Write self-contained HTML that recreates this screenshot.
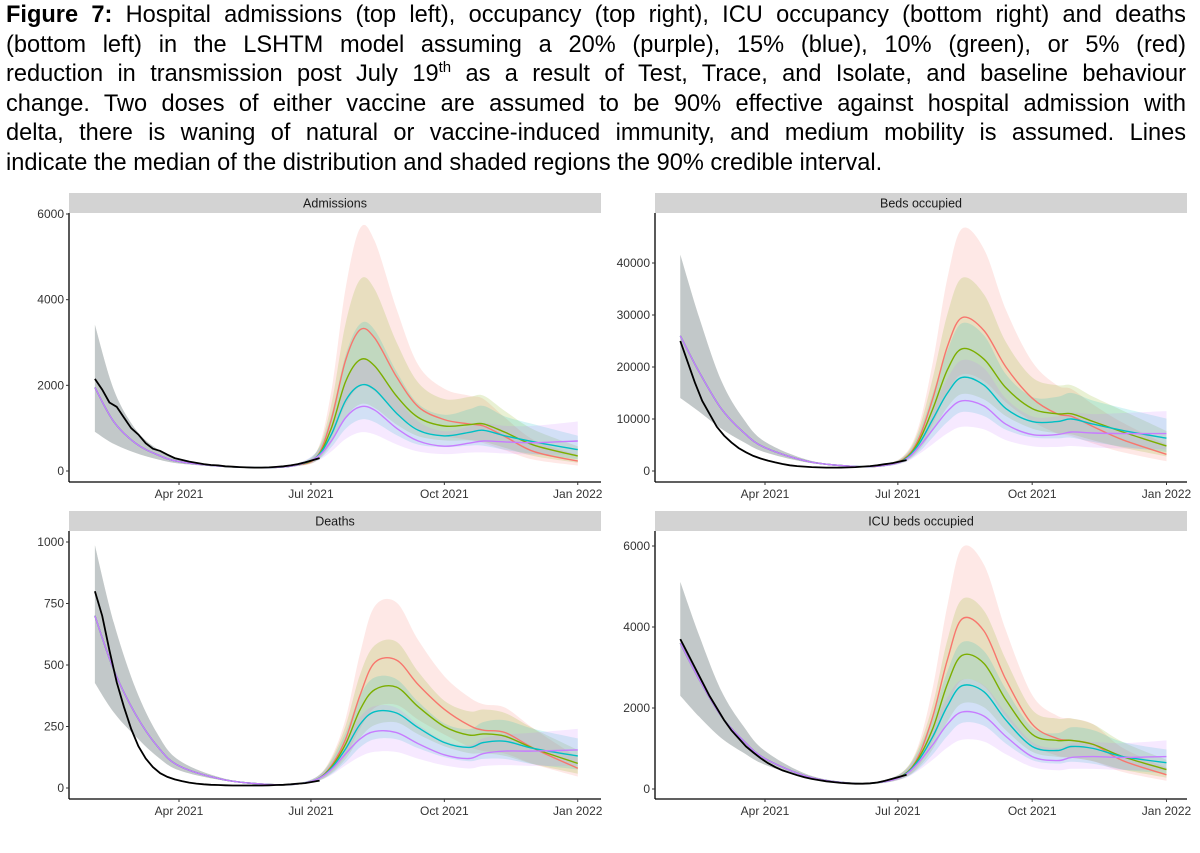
<!DOCTYPE html>
<html><head><meta charset="utf-8">
<style>
html,body{margin:0;padding:0;background:#fff;}
body{width:1200px;height:853px;position:relative;overflow:hidden;font-family:"Liberation Sans",Arial,sans-serif;}
#cap{position:absolute;left:6px;top:1px;width:1180px;font-size:23.6px;line-height:29.6px;color:#000;}
#cap div{text-align:justify;text-align-last:justify;white-space:nowrap;}
#cap div.last{text-align-last:left;}
sup{font-size:15px;line-height:0;}
svg{position:absolute;left:0;top:0;}
</style></head><body>
<div id="cap">
<div><b>Figure 7:</b> Hospital admissions (top left), occupancy (top right), ICU occupancy (bottom right) and deaths</div>
<div>(bottom left) in the LSHTM model assuming a 20% (purple), 15% (blue), 10% (green), or 5% (red)</div>
<div>reduction in transmission post July 19<sup>th</sup> as a result of Test, Trace, and Isolate, and baseline behaviour</div>
<div>change. Two doses of either vaccine are assumed to be 90% effective against hospital admission with</div>
<div>delta, there is waning of natural or vaccine-induced immunity, and medium mobility is assumed. Lines</div>
<div class="last">indicate the median of the distribution and shaded regions the 90% credible interval.</div>
</div>
<svg id="chart" width="1200" height="853"></svg>
<script>
// shared model time points (day of year 2021)
const days = [32,45,60,75,90,120,150,170,185,195,205,215,225,240,255,273,290,300,315,335,365];
const obsDays = [32,37,42,47,52,57,62,67,72,77,82,87,92,97,102,107,112,117,122,127,132,137,142,147,152,157,162,167,172,177,182,187];
const xTickLabels = ["Apr 2021","Jul 2021","Oct 2021","Jan 2022"];
const xTickDays = [90,181,273,365];

// Admissions
const admPre = [1950,1150,650,380,220,110,80,130];
const admRed = [330,1200,2600,3300,3100,2200,1500,1200,1100,1050,800,450,230];
const admGreen = [330,1000,2100,2600,2450,1750,1250,1050,1080,1100,900,600,350];
const admBlue = [330,850,1650,2000,1900,1350,950,820,900,950,820,680,500];
const admPurple = [320,700,1250,1500,1420,1000,700,580,650,700,680,660,700];
const admObs = [2150,1900,1600,1500,1250,1000,850,650,520,470,380,300,260,220,190,160,140,130,110,100,90,85,80,80,85,95,110,130,160,200,250,300];
const admHi = [1.75,1.65,1.5,1.35,1.25,1.15,1.15,1.25,1.4,1.55,1.65,1.72,1.73,1.72,1.65,1.6,1.6,1.6,1.55,1.6,1.65];
const admLo = [0.47,0.55,0.65,0.72,0.8,0.88,0.88,0.82,0.72,0.65,0.6,0.6,0.6,0.62,0.65,0.68,0.66,0.62,0.6,0.58,0.55];
const admTicks = [0,2000,4000,6000];

// Beds occupied
const bedPre = [26000,19000,12000,7500,4500,1800,900,1000];
const bedRed = [2300,6000,14000,24000,29500,27000,20000,14000,11000,10500,8500,6000,3200];
const bedGreen = [2200,5500,12000,19500,23500,21500,16000,12000,11000,11000,9500,7500,4800];
const bedBlue = [2100,5000,10000,15000,18000,16500,12000,9500,9500,10000,9000,7800,6300];
const bedPurple = [2000,4500,8000,11500,13500,12500,9000,7000,7000,7500,7300,7200,7200];
const bedObs = [25000,21000,17000,13500,11000,8500,6800,5500,4400,3600,2900,2400,2000,1650,1350,1100,950,850,750,700,650,650,650,700,750,850,950,1100,1300,1500,1800,2100];
const bedHi = [1.6,1.55,1.45,1.35,1.25,1.15,1.15,1.2,1.3,1.4,1.5,1.55,1.58,1.58,1.55,1.5,1.5,1.5,1.5,1.55,1.6];
const bedLo = [0.54,0.6,0.68,0.75,0.8,0.88,0.88,0.85,0.78,0.7,0.65,0.63,0.63,0.64,0.66,0.68,0.66,0.64,0.62,0.6,0.58];
const bedTicks = [0,10000,20000,30000,40000];

// Deaths
const dthPre = [700,480,300,170,90,35,15,15];
const dthRed = [35,90,200,380,510,520,420,320,255,235,225,160,80];
const dthGreen = [35,85,180,320,400,410,330,250,215,220,210,160,100];
const dthBlue = [35,80,160,260,310,305,245,185,165,185,190,160,130];
const dthPurple = [35,75,140,200,230,225,180,135,120,140,150,150,155];
const dthObs = [800,700,560,430,330,240,170,120,85,60,45,35,28,22,18,15,13,12,11,10,10,10,10,10,11,12,13,15,18,20,25,30];
const dthHi = [1.41,1.4,1.35,1.3,1.25,1.15,1.15,1.2,1.3,1.38,1.42,1.45,1.45,1.45,1.43,1.42,1.45,1.45,1.45,1.5,1.55];
const dthLo = [0.61,0.64,0.7,0.75,0.8,0.88,0.88,0.85,0.78,0.7,0.66,0.64,0.64,0.65,0.66,0.68,0.66,0.64,0.62,0.6,0.58];
const dthTicks = [0,250,500,750,1000];

// ICU
const icuPre = [3600,2700,1800,1200,750,300,140,170];
const icuRed = [350,800,1800,3200,4200,3900,2700,1600,1250,1200,1100,700,350];
const icuGreen = [350,750,1500,2600,3300,3100,2200,1350,1200,1200,1100,800,480];
const icuBlue = [340,700,1300,2050,2550,2400,1700,1050,950,1050,1000,800,650];
const icuPurple = [330,650,1100,1600,1900,1800,1300,800,700,780,800,780,800];
const icuObs = [3700,3350,3000,2650,2300,2000,1700,1450,1250,1050,900,760,640,540,460,400,340,290,250,220,190,170,150,140,130,130,140,160,200,250,300,350];
const icuHi = [1.42,1.4,1.35,1.3,1.25,1.15,1.15,1.2,1.28,1.35,1.4,1.42,1.42,1.42,1.45,1.45,1.45,1.45,1.45,1.45,1.5];
const icuLo = [0.64,0.66,0.7,0.75,0.8,0.88,0.88,0.85,0.78,0.7,0.66,0.64,0.64,0.65,0.66,0.68,0.66,0.64,0.62,0.6,0.58];
const icuTicks = [0,2000,4000,6000];

const colors = {red:"#F8766D",green:"#7CAE00",blue:"#00BFC4",purple:"#C77CFF"};
const NS = "http://www.w3.org/2000/svg";
const svg = document.getElementById('chart');
function mk(tag, attrs, parent){const e=document.createElementNS(NS,tag);for(const k in attrs)e.setAttribute(k,attrs[k]);(parent||svg).appendChild(e);return e;}

function smooth(pts){
  let d = "M"+pts[0][0].toFixed(1)+","+pts[0][1].toFixed(1);
  for(let i=0;i<pts.length-1;i++){
    const p0=pts[Math.max(0,i-1)],p1=pts[i],p2=pts[i+1],p3=pts[Math.min(pts.length-1,i+2)];
    const c1=[p1[0]+(p2[0]-p0[0])/6,p1[1]+(p2[1]-p0[1])/6];
    const c2=[p2[0]-(p3[0]-p1[0])/6,p2[1]-(p3[1]-p1[1])/6];
    d+=" C"+c1[0].toFixed(1)+","+c1[1].toFixed(1)+" "+c2[0].toFixed(1)+","+c2[1].toFixed(1)+" "+p2[0].toFixed(1)+","+p2[1].toFixed(1);
  }
  return d;
}

function panel(cfg){
  const g = mk('g',{});
  
  
  const xs = d => cfg.xApr + (d-90)*cfg.pxDay;
  const ys = v => cfg.y0 - v*cfg.pxUnit;
  const strip = mk('rect',{x:cfg.left,y:cfg.stripTop,width:cfg.right-cfg.left,height:20,fill:"#d3d3d3"},g);
  
  
  const st = mk('text',{x:(cfg.left+cfg.right)/2,y:cfg.stripTop+14.5,'text-anchor':'middle','font-size':'12.5',fill:'#1a1a1a'},g);
  st.textContent = cfg.title;
  
  
  const order = ['red','green','blue','purple'];
  const full = {};
  order.forEach(k=>{ full[k] = cfg.pre.concat(cfg.series[k]); });
  order.forEach(k=>{
    const vals = full[k];
    const hi = days.map((d,i)=>[xs(d),ys(vals[i]*cfg.hi[i])]);
    const lo = days.map((d,i)=>[xs(d),ys(vals[i]*cfg.lo[i])]).reverse();
    const dp = smooth(hi)+" L"+smooth(lo).slice(1)+" Z";
    const band = mk('path',{d:dp,fill:colors[k],'fill-opacity':0.17,stroke:'none'},g);
    
    
  });
  order.forEach(k=>{
    const vals = full[k];
    const line = mk('path',{d:smooth(days.map((d,i)=>[xs(d),ys(vals[i])])),fill:'none',stroke:colors[k],'stroke-width':1.4},g);
    
    
  });
  const obs = mk('polyline',{points:obsDays.map((d,i)=>xs(d).toFixed(1)+","+ys(cfg.obs[i]).toFixed(1)).join(" "),fill:'none',stroke:'#000','stroke-width':1.8},g);
  
  
  const ya = mk('line',{x1:cfg.left,y1:cfg.stripTop+20,x2:cfg.left,y2:cfg.axisY,stroke:'#000','stroke-width':1.3},g);
  
  
  const xa = mk('line',{x1:cfg.left,y1:cfg.axisY,x2:cfg.right,y2:cfg.axisY,stroke:'#000','stroke-width':1.3},g);
  
  
  cfg.ticks.forEach(t=>{
    const y = ys(t);
    mk('line',{x1:cfg.left-3,y1:y,x2:cfg.left,y2:y,stroke:'#333','stroke-width':1},g);
    const tl = mk('text',{x:cfg.left-5,y:y+4,'text-anchor':'end','font-size':'12',fill:'#333'},g);
    tl.textContent = t;
    
    
  });
  xTickDays.forEach((d,i)=>{
    const x = xs(d);
    mk('line',{x1:x,y1:cfg.axisY,x2:x,y2:cfg.axisY+3,stroke:'#333','stroke-width':1},g);
    const tl = mk('text',{x:x,y:cfg.axisY+16,'text-anchor':'middle','font-size':'12',fill:'#333'},g);
    tl.textContent = xTickLabels[i];
    
    
  });
}

panel({name:'admissions',title:'Admissions',left:69,right:601,stripTop:193,axisY:482,y0:471,pxUnit:257/6000,xApr:179,pxDay:1.45,
  pre:admPre,series:{red:admRed,green:admGreen,blue:admBlue,purple:admPurple},obs:admObs,hi:admHi,lo:admLo,ticks:admTicks});
panel({name:'beds',title:'Beds occupied',left:655,right:1187,stripTop:193,axisY:482,y0:471,pxUnit:208/40000,xApr:765,pxDay:1.46,
  pre:bedPre,series:{red:bedRed,green:bedGreen,blue:bedBlue,purple:bedPurple},obs:bedObs,hi:bedHi,lo:bedLo,ticks:bedTicks});
panel({name:'deaths',title:'Deaths',left:69,right:601,stripTop:511,axisY:799,y0:788,pxUnit:246/1000,xApr:179,pxDay:1.45,
  pre:dthPre,series:{red:dthRed,green:dthGreen,blue:dthBlue,purple:dthPurple},obs:dthObs,hi:dthHi,lo:dthLo,ticks:dthTicks});
panel({name:'icu',title:'ICU beds occupied',left:655,right:1187,stripTop:511,axisY:799,y0:789,pxUnit:243/6000,xApr:765,pxDay:1.46,
  pre:icuPre,series:{red:icuRed,green:icuGreen,blue:icuBlue,purple:icuPurple},obs:icuObs,hi:icuHi,lo:icuLo,ticks:icuTicks});
</script>
</body></html>
